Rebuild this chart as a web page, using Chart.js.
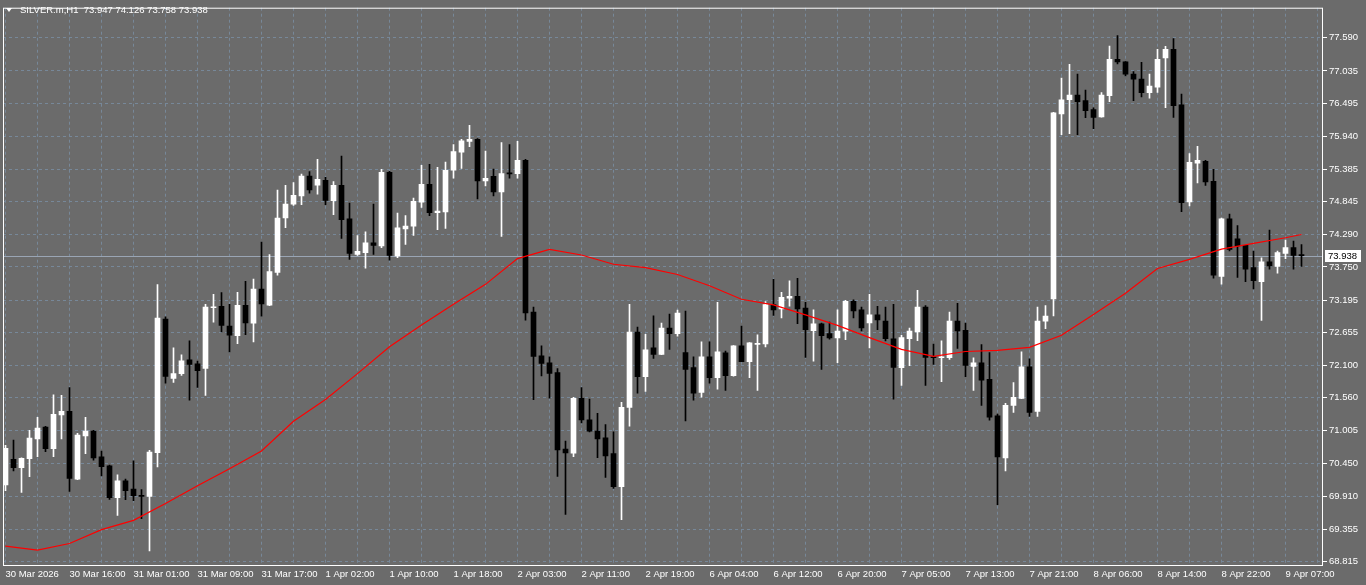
<!doctype html>
<html>
<head>
    <meta charset="UTF-8"/>
    <title>SILVER.m,H1</title>
    <script src="https://cdn.jsdelivr.net/npm/chart.js@4.4.1/dist/chart.umd.min.js"></script>
    <style>
        body { margin: 0; background: #6b6b6b; }
        canvas { display: block; }
    </style>
</head>
<body>
<canvas id="myChart" width="1366" height="585"></canvas>

<script>
    // H1 candles, 30 Mar 08:00 .. 9 Apr 08:00
    const opens = [70.095, 70.527, 70.387, 70.537, 70.869, 71.064, 70.703, 71.268, 71.330, 70.194,
        70.919, 70.997, 70.565, 70.417, 69.884, 70.166, 70.028, 69.915, 69.905, 70.637,
        72.875, 71.883, 71.961, 72.194, 72.127, 72.049, 73.065, 73.091, 72.759, 72.598,
        73.108, 72.809, 73.379, 73.108, 73.656, 74.570, 74.803, 74.941, 75.273, 75.119,
        75.202, 74.858, 75.119, 74.554, 73.960, 73.989, 74.155, 74.100, 75.335, 73.934,
        74.387, 74.432, 74.836, 75.135, 74.658, 74.670, 75.373, 75.672, 75.855, 75.888,
        75.190, 75.268, 75.007, 75.325, 75.313, 75.534, 72.991, 72.260, 72.144, 71.978,
        70.698, 70.627, 71.546, 71.185, 70.997, 70.886, 70.620, 70.066, 71.396, 72.659,
        71.911, 72.393, 72.282, 72.726, 72.631, 72.315, 72.061, 71.645, 72.244, 71.895,
        72.310, 71.928, 72.427, 72.161, 72.450, 72.460, 73.119, 73.046, 73.224, 73.257,
        73.058, 72.681, 72.797, 72.631, 72.559, 72.671, 73.174, 73.030, 72.813, 72.946,
        72.842, 72.543, 72.061, 72.548, 72.659, 73.075, 72.244, 72.227, 72.227, 72.842,
        72.687, 72.082, 72.144, 71.867, 71.252, 70.548, 71.429, 71.546, 72.077, 71.330,
        72.842, 73.213, 76.315, 76.553, 76.631, 76.536, 76.387, 76.265, 76.619, 77.229,
        77.185, 76.980, 76.897, 76.669, 76.764, 77.251, 77.396, 76.465, 74.841, 75.490,
        75.518, 75.185, 73.590, 74.554, 74.221, 74.110, 73.739, 73.502, 73.834, 73.756,
        73.977, 74.072, 73.947];
    const highs = [70.760, 70.848, 70.550, 71.009, 71.230, 71.080, 71.607, 71.596, 71.729, 70.959,
        71.230, 71.009, 70.665, 70.430, 70.266, 70.194, 70.499, 70.017, 70.676, 73.452,
        72.913, 72.393, 72.277, 72.510, 72.172, 73.124, 73.291, 73.319, 73.124, 73.324,
        73.507, 73.545, 74.166, 73.955, 75.036, 75.119, 75.164, 75.306, 75.346, 75.551,
        75.252, 75.180, 75.606, 74.820, 74.276, 74.338, 74.803, 75.385, 75.351, 74.653,
        74.609, 74.903, 75.451, 75.468, 75.418, 75.506, 75.800, 75.888, 76.121, 75.900,
        75.689, 75.390, 75.833, 75.800, 75.855, 75.551, 73.075, 72.427, 72.244, 72.044,
        70.831, 71.562, 71.729, 71.534, 71.296, 71.108, 70.986, 71.479, 73.124, 72.742,
        72.621, 72.930, 72.809, 72.958, 73.025, 73.008, 72.244, 72.493, 72.493, 73.158,
        72.338, 72.430, 72.759, 72.480, 72.610, 73.169, 73.540, 73.324, 73.518, 73.557,
        73.158, 73.030, 72.810, 72.825, 73.030, 73.190, 73.200, 73.075, 73.291, 73.091,
        73.075, 73.124, 72.604, 72.726, 73.357, 73.100, 72.455, 72.510, 72.991, 73.141,
        72.809, 72.227, 72.448, 72.315, 71.285, 71.462, 71.811, 72.327, 72.210, 73.075,
        73.103, 76.340, 76.914, 77.146, 76.980, 76.714, 76.415, 76.670, 77.450, 77.628,
        77.190, 77.025, 77.180, 76.980, 77.396, 77.445, 77.578, 76.648, 75.651, 75.772,
        75.534, 75.385, 74.570, 74.637, 74.442, 74.110, 74.017, 73.900, 74.366, 74.017,
        74.200, 74.183, 74.126];
    const lows = [70.000, 70.332, 69.972, 70.233, 70.570, 70.653, 70.570, 70.869, 69.988, 70.183,
        70.620, 70.510, 70.249, 69.855, 69.585, 69.850, 69.834, 69.530, 68.991, 70.399,
        71.800, 71.816, 71.933, 71.517, 71.729, 71.596, 72.825, 72.659, 72.327, 72.465,
        72.614, 72.493, 72.925, 73.100, 73.611, 74.409, 74.780, 74.791, 74.986, 74.969,
        74.791, 74.625, 74.226, 73.877, 73.943, 73.728, 73.960, 74.072, 73.861, 73.905,
        74.127, 74.276, 74.748, 74.609, 74.376, 74.393, 75.235, 75.401, 75.767, 74.891,
        75.107, 74.941, 74.260, 75.235, 75.235, 72.859, 71.524, 71.923, 71.551, 70.238,
        69.601, 70.570, 71.135, 70.985, 70.553, 70.221, 70.038, 69.513, 71.080, 71.634,
        71.662, 72.216, 72.280, 72.365, 72.588, 71.168, 71.517, 71.567, 71.800, 71.700,
        71.679, 71.920, 72.160, 71.895, 71.679, 72.410, 72.937, 72.897, 73.091, 72.797,
        72.232, 72.172, 72.033, 72.540, 72.144, 72.530, 72.897, 72.676, 72.393, 72.697,
        72.510, 71.534, 71.762, 72.094, 72.515, 71.762, 72.116, 71.828, 72.200, 72.382,
        71.911, 71.679, 71.429, 71.180, 69.767, 70.332, 71.313, 71.540, 71.246, 71.246,
        72.714, 72.930, 75.966, 75.983, 75.966, 76.249, 76.066, 76.260, 76.520, 77.151,
        76.952, 76.536, 76.598, 76.576, 76.676, 76.420, 76.254, 74.675, 74.770, 75.157,
        75.114, 73.561, 73.462, 74.017, 73.573, 73.502, 73.379, 72.854, 73.711, 73.645,
        73.889, 73.711, 73.758];
    const closes = [70.710, 70.387, 70.543, 70.881, 71.047, 70.703, 71.280, 71.330, 70.204, 70.931,
        70.997, 70.548, 70.404, 69.884, 70.166, 70.000, 69.917, 69.905, 70.648, 72.892,
        71.916, 71.961, 72.177, 72.116, 72.011, 73.075, 73.080, 72.770, 72.604, 73.108,
        72.813, 73.379, 73.129, 73.673, 74.570, 74.803, 74.948, 75.273, 75.041, 75.218,
        74.864, 75.119, 74.542, 73.977, 74.010, 74.155, 74.110, 75.335, 73.944, 74.404,
        74.432, 74.848, 75.135, 74.658, 74.687, 75.368, 75.684, 75.862, 75.888, 75.190,
        75.235, 75.007, 75.313, 75.310, 75.534, 72.980, 72.249, 72.132, 71.966, 70.681,
        70.631, 71.546, 71.185, 70.997, 70.869, 70.582, 70.066, 71.396, 72.659, 71.911,
        72.360, 72.282, 72.726, 72.631, 72.975, 72.033, 71.634, 72.244, 71.895, 72.327,
        71.928, 72.427, 72.161, 72.476, 72.470, 73.119, 73.030, 73.241, 73.257, 73.046,
        72.697, 72.797, 72.598, 72.559, 72.676, 73.174, 73.013, 72.726, 72.946, 72.863,
        72.548, 72.066, 72.564, 72.676, 73.075, 72.232, 72.227, 72.244, 72.842, 72.676,
        72.099, 72.144, 71.850, 71.230, 70.565, 71.429, 71.562, 72.077, 71.313, 72.842,
        72.925, 76.332, 76.548, 76.631, 76.520, 76.370, 76.254, 76.631, 77.229, 77.185,
        76.980, 76.897, 76.669, 76.781, 77.229, 77.396, 76.453, 74.825, 75.501, 75.534,
        75.174, 73.611, 74.554, 74.044, 74.100, 73.711, 73.518, 73.834, 73.768, 73.989,
        74.072, 73.944, 73.938];

    // one label every 8 bars
    const timeLabels = ['30 Mar 2026', '30 Mar 16:00', '31 Mar 01:00', '31 Mar 09:00', '31 Mar 17:00',
        '1 Apr 02:00', '1 Apr 10:00', '1 Apr 18:00', '2 Apr 03:00', '2 Apr 11:00', '2 Apr 19:00',
        '6 Apr 04:00', '6 Apr 12:00', '6 Apr 20:00', '7 Apr 05:00', '7 Apr 13:00', '7 Apr 21:00',
        '8 Apr 06:00', '8 Apr 14:00', '8 Apr 22:00', '9 Apr 07:00'];
    const priceTicks = [77.590, 77.035, 76.495, 75.940, 75.385, 74.845, 74.290, 73.750, 73.195,
        72.655, 72.100, 71.560, 71.005, 70.450, 69.910, 69.355, 68.815];

    // moving average
    const maBars = [0, 4, 8, 12, 16, 20, 24, 28, 32, 36, 40, 44, 48, 52, 56, 60, 64, 68, 72, 76, 80,
        84, 88, 92, 96, 100, 104, 108, 112, 116, 120, 124, 128, 132, 136, 140, 144, 148, 152, 156, 160, 162];
    const maValues = [69.069, 69.003, 69.114, 69.347, 69.502, 69.784, 70.083, 70.366, 70.665, 71.163,
        71.529, 71.961, 72.410, 72.775, 73.124, 73.457, 73.889, 74.044, 73.950, 73.794, 73.739,
        73.623, 73.435, 73.208, 73.113, 72.947, 72.770, 72.564, 72.368, 72.252, 72.332, 72.352,
        72.402, 72.604, 72.953, 73.307, 73.723, 73.877, 74.047, 74.143, 74.238, 74.293];

    const lastBar = closes.length - 1;
    const candleColor = closes.map((c, i) => c >= opens[i] ? '#ffffff' : '#000000');
    const fontFamily = '"Liberation Sans", Arial, sans-serif';

    const mtFrame = {
        id: 'mtFrame',
        beforeDraw(chart) {
            const ctx = chart.ctx;
            ctx.save();
            ctx.fillStyle = '#6b6b6b';
            ctx.fillRect(0, 0, chart.width, chart.height);
            ctx.restore();
        },
        beforeDatasetsDraw(chart) {
            // bid line
            const ctx = chart.ctx, a = chart.chartArea;
            const y = Math.round(chart.scales.y.getPixelForValue(closes[lastBar])) + 0.5;
            ctx.save();
            ctx.strokeStyle = '#9aa5b4';
            ctx.lineWidth = 1;
            ctx.beginPath();
            ctx.moveTo(a.left, y);
            ctx.lineTo(a.right, y);
            ctx.stroke();
            ctx.restore();
        },
        afterDraw(chart) {
            const ctx = chart.ctx, a = chart.chartArea;
            ctx.save();
            ctx.strokeStyle = '#ffffff';
            ctx.lineWidth = 1;
            ctx.strokeRect(a.left + 0.5, a.top + 0.5, a.right - a.left - 1, a.bottom - a.top);

            // header
            ctx.fillStyle = '#ffffff';
            ctx.beginPath();
            ctx.moveTo(6, 8);
            ctx.lineTo(12, 8);
            ctx.lineTo(9, 12);
            ctx.closePath();
            ctx.fill();
            ctx.font = '9.5px ' + fontFamily;
            ctx.textBaseline = 'middle';
            ctx.fillText('SILVER.m,H1  ' + opens[lastBar].toFixed(3) + ' ' + highs[lastBar].toFixed(3) + ' ' +
                lows[lastBar].toFixed(3) + ' ' + closes[lastBar].toFixed(3), 20, 10);

            // bid price box
            const y = Math.round(chart.scales.y.getPixelForValue(closes[lastBar]));
            ctx.fillStyle = '#ffffff';
            ctx.fillRect(a.right + 2, y - 6, 36, 12);
            ctx.fillStyle = '#000000';
            ctx.fillText(closes[lastBar].toFixed(3), a.right + 5, y + 0.5);
            ctx.restore();
        }
    };

    const ctx = document.getElementById('myChart').getContext('2d');
    const myChart = new Chart(ctx, {
        type: 'bar',
        data: {
            datasets: [
                {
                    type: 'line',
                    label: 'MA',
                    data: maBars.map((b, i) => ({x: b, y: maValues[i]})),
                    borderColor: '#ff0000',
                    borderWidth: 1.2,
                    pointRadius: 0,
                    tension: 0,
                    order: 0
                },
                {
                    label: 'body',
                    data: opens.map((o, i) => ({x: i, y: [o, closes[i]]})),
                    backgroundColor: candleColor,
                    barThickness: 5,
                    minBarLength: 1,
                    grouped: false,
                    order: 1
                },
                {
                    label: 'wick',
                    data: lows.map((l, i) => ({x: i, y: [l, highs[i]]})),
                    backgroundColor: candleColor,
                    barThickness: 1,
                    grouped: false,
                    order: 2
                }
            ]
        },
        options: {
            responsive: false,
            animation: false,
            layout: {padding: {left: 3, top: 3, right: 0, bottom: 0}},
            plugins: {legend: {display: false}, tooltip: {enabled: false}},
            scales: {
                x: {
                    type: 'linear',
                    offset: false,
                    min: -0.3125,
                    max: 164.6875,
                    afterFit: (scale) => { scale.height = 20; },
                    afterBuildTicks: (scale) => {
                        const t = [];
                        for (let v = 0; v <= 164; v += 4) t.push({value: v});
                        scale.ticks = t;
                    },
                    grid: {color: '#778899', drawTicks: false, offset: false},
                    border: {display: false, dash: [3, 3]},
                    ticks: {
                        autoSkip: false,
                        maxRotation: 0,
                        align: 'start',
                        padding: 4,
                        color: '#ffffff',
                        font: {family: fontFamily, size: 9.5},
                        callback: (v) => v % 8 === 0 ? (timeLabels[v / 8] || '') : ''
                    }
                },
                y: {
                    position: 'right',
                    min: 68.754,
                    max: 78.094,
                    afterFit: (scale) => { scale.width = 43; },
                    afterBuildTicks: (scale) => { scale.ticks = priceTicks.map(v => ({value: v})); },
                    grid: {color: '#778899', tickColor: '#ffffff', tickLength: 4, tickBorderDash: [0, 0]},
                    border: {display: false, dash: [3, 3]},
                    ticks: {
                        padding: 2,
                        color: '#ffffff',
                        font: {family: fontFamily, size: 9.5},
                        callback: (v) => Number(v).toFixed(3)
                    }
                }
            }
        },
        plugins: [mtFrame]
    });
</script>
</body>
</html>
